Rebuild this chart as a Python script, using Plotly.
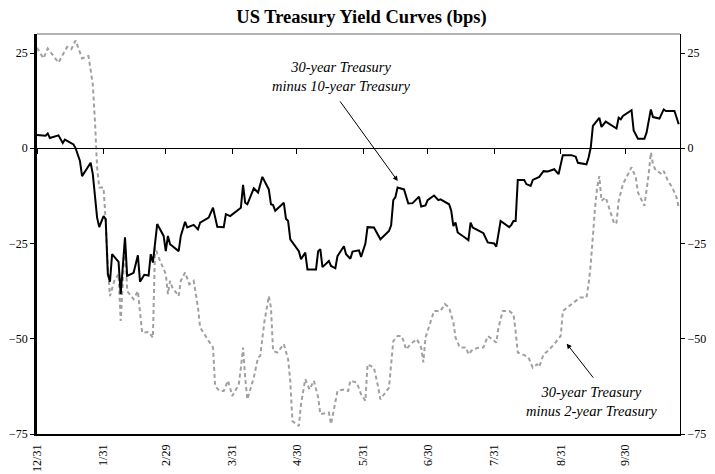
import plotly.graph_objects as go

# 30-year minus 10-year Treasury (bps)
dates_10 = ["1999-12-31","2000-01-04","2000-01-05","2000-01-06","2000-01-10","2000-01-12","2000-01-13","2000-01-17",
            "2000-01-18","2000-01-20","2000-01-21","2000-01-25","2000-01-26","2000-01-28","2000-01-29","2000-01-31",
            "2000-02-01","2000-02-02","2000-02-03","2000-02-04","2000-02-07","2000-02-08","2000-02-10","2000-02-11",
            "2000-02-14","2000-02-16","2000-02-17","2000-02-19","2000-02-21","2000-02-22","2000-02-23","2000-02-25",
            "2000-02-28","2000-02-29","2000-03-01","2000-03-02","2000-03-06","2000-03-07","2000-03-09","2000-03-10",
            "2000-03-13","2000-03-15","2000-03-16","2000-03-20","2000-03-22","2000-03-24","2000-03-27","2000-03-28",
            "2000-03-30","2000-04-04","2000-04-05","2000-04-06","2000-04-07","2000-04-10","2000-04-12","2000-04-14",
            "2000-04-17","2000-04-18","2000-04-19","2000-04-20","2000-04-24","2000-04-25","2000-04-26","2000-04-27",
            "2000-05-01","2000-05-02","2000-05-04","2000-05-05","2000-05-09","2000-05-10","2000-05-11","2000-05-12",
            "2000-05-15","2000-05-16","2000-05-18","2000-05-19","2000-05-22","2000-05-23","2000-05-25","2000-05-26",
            "2000-05-29","2000-05-30","2000-06-01","2000-06-02","2000-06-05","2000-06-08","2000-06-12","2000-06-13",
            "2000-06-14","2000-06-15","2000-06-16","2000-06-19","2000-06-21","2000-06-23","2000-06-26","2000-06-27",
            "2000-06-29","2000-06-30","2000-07-03","2000-07-05","2000-07-06","2000-07-10","2000-07-11","2000-07-12",
            "2000-07-13","2000-07-14","2000-07-17","2000-07-19","2000-07-20","2000-07-21","2000-07-24","2000-07-26",
            "2000-07-28","2000-07-31","2000-08-01","2000-08-02","2000-08-03","2000-08-07","2000-08-08","2000-08-09",
            "2000-08-10","2000-08-11","2000-08-14","2000-08-15","2000-08-17","2000-08-18","2000-08-21","2000-08-23",
            "2000-08-25","2000-08-28","2000-08-30","2000-09-01","2000-09-05","2000-09-07","2000-09-08","2000-09-12",
            "2000-09-13","2000-09-14","2000-09-15","2000-09-18","2000-09-19","2000-09-21","2000-09-26","2000-09-27",
            "2000-09-28","2000-09-29","2000-10-03","2000-10-04","2000-10-06","2000-10-09","2000-10-10","2000-10-12",
            "2000-10-13","2000-10-16","2000-10-18","2000-10-19","2000-10-23","2000-10-25"]
spread_30_10 = [3.5,3.3,3.9,2.7,3.4,1.4,2.3,1.0,
                0.0,-3.3,-7.3,-3.8,-6.8,-18.2,-20.7,-17.8,
                -18.6,-33.0,-35.0,-27.8,-29.8,-38.3,-23.4,-33.5,
                -32.7,-28.1,-35.0,-33.2,-33.4,-27.8,-30.0,-19.9,
                -23.0,-27.0,-23.0,-25.2,-27.0,-23.0,-19.3,-20.8,
                -20.1,-21.3,-19.5,-18.2,-15.6,-20.6,-20.7,-17.3,
                -17.8,-15.6,-9.6,-14.3,-14.7,-10.5,-11.6,-7.5,
                -10.8,-14.7,-14.9,-16.4,-14.3,-18.5,-19.1,-23.9,
                -27.0,-29.1,-27.4,-31.8,-31.8,-27.0,-26.5,-31.2,
                -29.6,-30.9,-31.5,-28.3,-25.7,-27.8,-29.0,-27.1,
                -26.8,-28.5,-25.0,-20.7,-20.8,-23.9,-21.7,-20.2,
                -13.6,-12.8,-10.3,-10.8,-14.5,-14.4,-12.7,-15.3,
                -15.0,-13.6,-12.4,-13.6,-13.4,-14.7,-16.4,-20.4,
                -19.5,-22.1,-23.3,-24.1,-19.5,-20.8,-21.7,-22.3,
                -24.7,-25.0,-25.8,-22.0,-19.1,-20.7,-20.1,-19.1,
                -19.1,-8.3,-8.3,-9.4,-9.9,-8.3,-7.5,-6.0,
                -6.1,-5.5,-6.8,-1.8,-1.8,-2.2,-3.8,-4.2,
                -2.4,0.2,5.9,8.0,5.6,7.0,5.2,8.0,
                7.6,8.5,10.0,4.7,2.5,2.5,4.1,10.2,
                8.2,7.8,10.2,9.8,9.8,6.3]

# 30-year minus 2-year Treasury (bps)
dates_2 = ["1999-12-31","2000-01-03","2000-01-05","2000-01-10","2000-01-14","2000-01-16","2000-01-18","2000-01-21",
           "2000-01-24","2000-01-26","2000-01-27","2000-01-28","2000-01-29","2000-01-31","2000-02-01","2000-02-02",
           "2000-02-03","2000-02-05","2000-02-07","2000-02-08","2000-02-10","2000-02-11","2000-02-14","2000-02-16",
           "2000-02-18","2000-02-21","2000-02-23","2000-02-24","2000-02-26","2000-02-29","2000-03-01","2000-03-02",
           "2000-03-03","2000-03-06","2000-03-07","2000-03-09","2000-03-11","2000-03-13","2000-03-15","2000-03-16",
           "2000-03-20","2000-03-22","2000-03-23","2000-03-25","2000-03-27","2000-03-29","2000-03-31","2000-04-03",
           "2000-04-04","2000-04-05","2000-04-06","2000-04-07","2000-04-10","2000-04-12","2000-04-13","2000-04-15",
           "2000-04-17","2000-04-18","2000-04-19","2000-04-21","2000-04-24","2000-04-26","2000-04-27","2000-04-28",
           "2000-05-01","2000-05-02","2000-05-04","2000-05-06","2000-05-08","2000-05-10","2000-05-11","2000-05-15",
           "2000-05-16","2000-05-17","2000-05-19","2000-05-22","2000-05-24","2000-05-25","2000-05-28","2000-05-30",
           "2000-06-01","2000-06-02","2000-06-05","2000-06-07","2000-06-08","2000-06-12","2000-06-13","2000-06-14",
           "2000-06-16","2000-06-18","2000-06-20","2000-06-22","2000-06-25","2000-06-27","2000-06-28","2000-06-29",
           "2000-07-01","2000-07-03","2000-07-06","2000-07-08","2000-07-10","2000-07-12","2000-07-13","2000-07-15",
           "2000-07-18","2000-07-19","2000-07-21","2000-07-24","2000-07-26","2000-07-28","2000-07-30","2000-08-01",
           "2000-08-02","2000-08-04","2000-08-07","2000-08-09","2000-08-10","2000-08-11","2000-08-14","2000-08-16",
           "2000-08-18","2000-08-20","2000-08-21","2000-08-23","2000-08-25","2000-08-28","2000-08-30","2000-08-31",
           "2000-09-01","2000-09-03","2000-09-05","2000-09-08","2000-09-09","2000-09-12","2000-09-13","2000-09-14",
           "2000-09-15","2000-09-16","2000-09-17","2000-09-18","2000-09-19","2000-09-21","2000-09-22","2000-09-24",
           "2000-09-25","2000-09-26","2000-09-27","2000-09-29","2000-10-02","2000-10-03","2000-10-05","2000-10-06",
           "2000-10-09","2000-10-10","2000-10-11","2000-10-12","2000-10-13","2000-10-14","2000-10-17","2000-10-18",
           "2000-10-20","2000-10-22","2000-10-24","2000-10-25"]
spread_30_2 = [26.4,23.6,26.2,22.5,26.6,26.0,28.3,23.6,
               24.2,16.8,7.2,-5.0,-10.3,-10.3,-19.1,-31.3,
               -38.8,-34.8,-33.0,-45.3,-24.3,-37.5,-39.6,-37.5,
               -48.4,-48.2,-49.7,-26.0,-29.1,-33.0,-38.3,-34.8,
               -36.5,-38.8,-34.8,-32.6,-35.7,-34.8,-41.8,-47.0,
               -50.6,-52.3,-62.4,-63.7,-63.7,-61.0,-65.0,-62.0,
               -57.6,-52.3,-60.2,-65.9,-60.2,-54.9,-54.5,-45.3,
               -38.8,-41.8,-53.2,-53.6,-51.4,-55.4,-61.0,-71.6,
               -72.9,-67.2,-60.6,-63.3,-61.0,-65.4,-69.8,-69.4,
               -72.4,-69.8,-63.7,-63.3,-63.7,-61.0,-61.5,-64.6,
               -66.3,-56.7,-57.6,-62.8,-65.9,-62.8,-55.8,-50.6,
               -49.3,-49.3,-52.8,-51.4,-50.1,-52.3,-56.2,-49.7,
               -46.2,-42.7,-42.7,-40.9,-41.8,-45.7,-49.7,-52.3,
               -52.3,-54.1,-52.8,-52.3,-52.3,-49.3,-50.1,-51.0,
               -47.1,-42.7,-42.7,-43.6,-48.0,-53.6,-54.3,-54.9,
               -57.6,-56.7,-57.4,-54.1,-53.2,-51.4,-49.9,-49.3,
               -42.7,-41.8,-40.9,-39.6,-39.2,-39.2,-35.7,-30.4,
               -21.7,-15.6,-10.2,-7.3,-13.8,-12.9,-14.7,-17.8,
               -19.9,-19.5,-13.8,-9.4,-6.1,-5.0,-7.7,-11.6,
               -15.1,-11.2,-6.8,-1.1,-4.2,-5.5,-6.8,-6.0,
               -8.6,-10.3,-12.9,-15.6]

tick_dates = ["1999-12-31","2000-01-31","2000-02-29","2000-03-31","2000-04-30",
              "2000-05-31","2000-06-30","2000-07-31","2000-08-31","2000-09-30"]
tick_labels = ["12/31","1/31","2/29","3/31","4/30","5/31","6/30","7/31","8/31","9/30"]
y_ticks = [25, 0, -25, -50, -75]

FONT = "Liberation Serif, Times New Roman, serif"
XR = ["1999-12-31", "2000-10-25 14:00"]
YR = [-75, 30]

fig = go.Figure()
fig.add_trace(go.Scatter(x=dates_2, y=spread_30_2, mode="lines",
                         line=dict(color="#a0a0a0", width=2, dash="4px,3px"),
                         name="30-year minus 2-year", showlegend=False))
fig.add_trace(go.Scatter(x=dates_10, y=spread_30_10, mode="lines",
                         line=dict(color="#000000", width=2),
                         name="30-year minus 10-year", showlegend=False))
# helper invisible traces so the secondary axes render
fig.add_trace(go.Scatter(x=[tick_dates[0]], y=[0], xaxis="x2", yaxis="y",
                         mode="markers", marker=dict(opacity=0), showlegend=False, hoverinfo="skip"))
fig.add_trace(go.Scatter(x=[tick_dates[0]], y=[0], xaxis="x", yaxis="y2",
                         mode="markers", marker=dict(opacity=0), showlegend=False, hoverinfo="skip"))

# the page body adds an 8px margin, so the figure is sized/offset to compensate
fig.update_layout(
    template="none",
    width=707, height=466,
    margin=dict(l=29, r=35, t=26, b=40, autoexpand=False),
    paper_bgcolor="white", plot_bgcolor="white",
    font=dict(family=FONT, size=12, color="black"),
    title=dict(text="<b>US Treasury Yield Curves (bps)</b>", x=0.5, xanchor="center",
               y=0.981, yanchor="middle", font=dict(family=FONT, size=18.5, color="black")),
    xaxis=dict(type="date", range=XR, tickvals=tick_dates, ticktext=tick_labels, automargin=False,
               tickangle=-90, showgrid=False, zeroline=False, showline=True,
               linecolor="black", linewidth=1.5, ticks="", tickfont=dict(size=12),
               ticklabelstandoff=4),
    xaxis2=dict(type="date", range=XR, overlaying="x", anchor="free", position=75/105,
                tickvals=tick_dates, showticklabels=False, showgrid=False, zeroline=False,
                automargin=False,
                showline=True, linecolor="black", linewidth=1.2, ticks="outside",
                ticklen=5, tickcolor="black", tickwidth=1),
    yaxis=dict(range=YR, tickvals=y_ticks, showgrid=False, zeroline=False, automargin=False,
               showline=True, linecolor="black", linewidth=2.5, ticks="outside",
               ticklen=4, tickcolor="black", tickwidth=1, tickfont=dict(size=12)),
    yaxis2=dict(range=YR, tickvals=y_ticks, overlaying="y", side="right", anchor="x",
                showgrid=False, zeroline=False, showline=True, linecolor="black",
                automargin=False,
                linewidth=1, ticks="outside", ticklen=4, tickcolor="black",
                tickwidth=1, tickfont=dict(size=12)),
    shapes=[dict(type="line", xref="paper", yref="paper", x0=0, x1=1, y0=1, y1=1,
                 line=dict(color="#999999", width=1.5))],
)

fig.add_annotation(x="2000-06-16 02:00", y=-8.6, xref="x", yref="y",
                   ax="2000-05-19 17:00", ay=12.7, axref="x", ayref="y",
                   text="", showarrow=True, arrowhead=2, arrowsize=1, arrowwidth=1, arrowcolor="black")
fig.add_annotation(x="2000-05-21", y=18.8, xref="x", yref="y",
                   text="<i>30-year Treasury<br>minus 10-year Treasury</i>", showarrow=False,
                   font=dict(family=FONT, size=14.5, color="black"), align="center")
fig.add_annotation(x="2000-09-02 19:00", y=-51.3, xref="x", yref="y",
                   ax="2000-09-15 17:00", ay=-60.6, axref="x", ayref="y",
                   text="", showarrow=True, arrowhead=2, arrowsize=1, arrowwidth=1, arrowcolor="black")
fig.add_annotation(x="2000-09-14 05:00", y=-66.4, xref="x", yref="y",
                   text="<i>30-year Treasury<br>minus 2-year Treasury</i>", showarrow=False,
                   font=dict(family=FONT, size=14.5, color="black"), align="center")

fig.write_html("out.html")
